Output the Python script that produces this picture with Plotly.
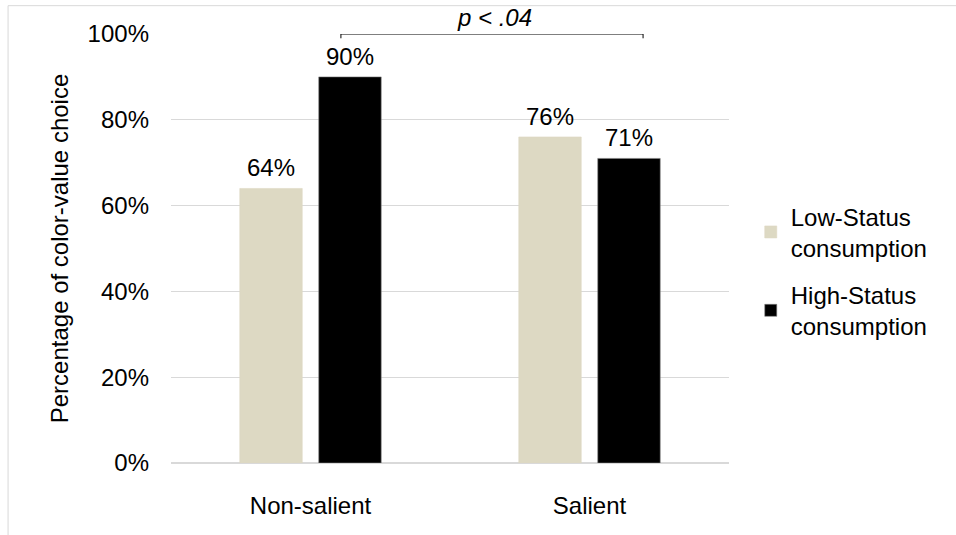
import plotly.graph_objects as go

# data
categories = ["Non-salient", "Salient"]
series_names = ["Low-Status<br>consumption", "High-Status<br>consumption"]
low_status = [64, 76]
high_status = [90, 71]
y_ticks = [0, 20, 40, 60, 80, 100]
p_label = "p < .04"

colors = ["#DDD9C3", "#000000"]
font_family = "Liberation Sans, Arial, sans-serif"
txt = dict(family=font_family, size=24, color="#000000")

fig = go.Figure()
for i, (name, vals) in enumerate(zip(series_names, [low_status, high_status])):
    fig.add_trace(go.Bar(
        x=categories, y=vals, name=name,
        marker=dict(color=colors[i], line=dict(color="#7F7F7F" if i else colors[i], width=0.6)),
        legendgroup=str(i),
        hoverinfo="skip",
    ))

# value labels above the bars
slot = (1 - 0.434) / 2
for i, vals in enumerate([low_status, high_status]):
    off = (i - 0.5) * slot
    for j, v in enumerate(vals):
        fig.add_annotation(x=j + off, y=v, text=f"{v}%", showarrow=False,
                           yanchor="bottom", yshift=5, font=txt)

# significance bracket
bx0, bx1, bmid = 0.109, 1.192, 0.65
fig.add_shape(type="path", xref="x", yref="y",
              path=f"M {bx0} 99 L {bx0} 100 L {bx1} 100 L {bx1} 99",
              line=dict(color="#000000", width=1))
fig.add_shape(type="line", xref="x", yref="y", x0=bmid, x1=bmid, y0=100, y1=101,
              line=dict(color="#000000", width=1))
fig.add_annotation(x=bmid + 0.01, y=100, text=f"<i>{p_label}</i>", showarrow=False,
                   yanchor="bottom", yshift=1, font=txt)

# outer chart border
fig.add_shape(type="rect", xref="paper", yref="paper", x0=-0.292, x1=1.6, y0=-0.5, y1=1.066,
              line=dict(color="#D9D9D9", width=1), layer="below")

fig.update_layout(
    width=956, height=535,
    margin=dict(l=171, r=227, t=34, b=72),
    paper_bgcolor="white", plot_bgcolor="white",
    barmode="group", bargap=0.434, bargroupgap=0.209,
    font=txt,
    legend=dict(x=1.039, y=0.447, xanchor="left", yanchor="middle",
                font=txt, tracegroupgap=13),
    showlegend=True,
)
fig.update_xaxes(showgrid=False, showline=False, ticks="", ticklabelstandoff=26,
                 tickfont=txt, range=[-0.5, 1.5])
fig.update_yaxes(range=[0, 100], tickvals=y_ticks, ticktext=[f"{t}%" for t in y_ticks],
                 showgrid=True, gridcolor="#D9D9D9", gridwidth=1,
                 zeroline=True, zerolinecolor="#D9D9D9", zerolinewidth=2,
                 ticks="", ticklabelstandoff=21, tickfont=txt,
                 title=dict(text="Percentage of color-value choice", font=txt, standoff=12))

fig.write_html("out.html", config={"displayModeBar": False},
               post_script="document.body.style.margin='0';")
